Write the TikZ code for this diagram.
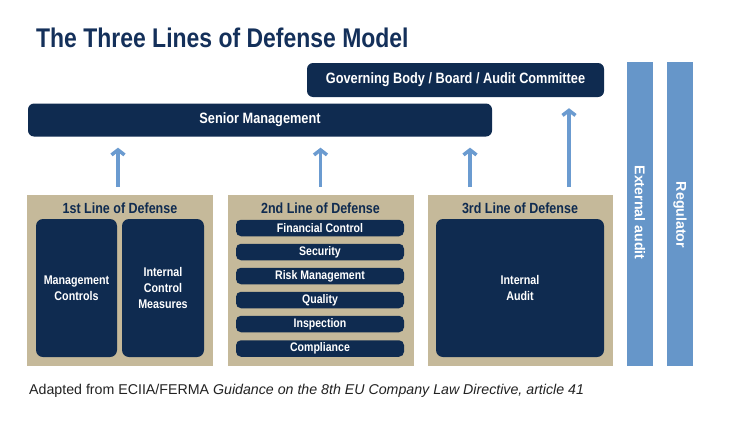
\documentclass[tikz,border=0pt]{standalone}
\usepackage{fontspec}
\setmainfont{Liberation Sans}
\newfontfamily\cond{Liberation Sans}[FakeStretch=0.85]
\newfontfamily\capfont{Liberation Sans}
\usetikzlibrary{arrows.meta}
\definecolor{navy}{HTML}{0F2B50}
\definecolor{titlenavy}{HTML}{14305A}
\definecolor{tan}{HTML}{C5B99A}
\definecolor{barblue}{HTML}{6696C9}
\definecolor{arrblue}{HTML}{6B9BD0}
\definecolor{captxt}{HTML}{222222}
\begin{document}
\begin{tikzpicture}[x=1pt,y=-1pt,
  navybox/.style={fill=navy, rounded corners=6pt, text=white, inner sep=0pt, align=center,
    font=\cond\bfseries\fontsize{15}{17}\selectfont},
  innerbox/.style={fill=navy, rounded corners=7pt, text=white, inner sep=0pt, align=center,
    minimum height=138pt, font=\cond\bfseries\fontsize{12.6}{16}\selectfont},
  itembox/.style={fill=navy, rounded corners=5pt, text=white, inner sep=0pt,
    minimum width=168pt, minimum height=16.5pt, font=\cond\bfseries\fontsize{12.4}{13}\selectfont},
  tanbox/.style={fill=tan, inner sep=0pt, minimum height=171pt},
  header/.style={text=navy, inner sep=0pt, font=\cond\bfseries\fontsize{14.7}{17}\selectfont},
  bar/.style={fill=barblue, inner sep=0pt, minimum width=26pt, minimum height=304pt},
  bartext/.style={text=white, rotate=-90, inner sep=0pt, font=\bfseries\fontsize{14.2}{16}\selectfont},
  arr/.style={draw=arrblue, line width=3.5pt, -{Straight Barb[length=5pt,width=13pt]}}
]
\useasboundingbox[fill=white] (0,0) rectangle (752,423);

\node[text=titlenavy, anchor=base west, inner sep=0pt,
  font=\cond\bfseries\fontsize{27}{30}\selectfont] (title) at (36,47) {The Three Lines of Defense Model};

\node[navybox, minimum width=297pt, minimum height=34pt] (gov) at (455.5,80) {Governing Body / Board / Audit Committee};
\node[navybox, minimum width=464pt, minimum height=33pt] (sm) at (260,120) {Senior Management};

\node[bar] (ext) at (640,214) {};
\node[bar] (reg) at (680,214) {};
\node[bartext] (extt) at (640,212.5) {External audit};
\node[bartext] (regt) at (680,215) {Regulator};

\node[tanbox, minimum width=186pt] (l1) at (120,280.5) {};
\node[tanbox, minimum width=186pt] (l2) at (320.5,280.5) {};
\node[tanbox, minimum width=185pt] (l3) at (520,280.5) {};

\node[header] (h1) at (120,208) {1st Line of Defense};
\node[header] (h2) at (320.5,208) {2nd Line of Defense};
\node[header] (h3) at (520,208) {3rd Line of Defense};

\node[innerbox, minimum width=81pt] (mc) at (76.5,288) {Management\\Controls};
\node[innerbox, minimum width=82pt] (icm) at (163,288) {Internal\\Control\\Measures};
\node[innerbox, minimum width=168pt] (ia) at (520,288) {Internal\\Audit};

\node[itembox] (i1) at (320,228) {Financial Control};
\node[itembox] (i2) at (320,252) {Security};
\node[itembox] (i3) at (320,276) {Risk Management};
\node[itembox] (i4) at (320,300) {Quality};
\node[itembox] (i5) at (320,324) {Inspection};
\node[itembox] (i6) at (320,348.5) {Compliance};

\draw[arr] ([xshift=-2pt,yshift=8pt]l1.north) -- ([xshift=-2pt,yshift=-11pt]l1.north |- sm.south);
\draw[arr] ([yshift=8pt]l2.north) -- ([yshift=-11pt]l2.north |- sm.south);
\coordinate (a3) at (470,187);
\draw[arr] (a3) -- ([yshift=-11pt]a3 |- sm.south);
\coordinate (a4) at (569,187);
\draw[arr] (a4) -- ([yshift=-11pt]a4 |- gov.south);

\node[anchor=west, inner sep=0pt, text=captxt, font=\capfont\fontsize{14.2}{16}\selectfont] (cap) at (29,391)
  {Adapted from ECIIA/FERMA \textit{Guidance on the 8th EU Company Law Directive, article 41}};
\end{tikzpicture}
\end{document}
